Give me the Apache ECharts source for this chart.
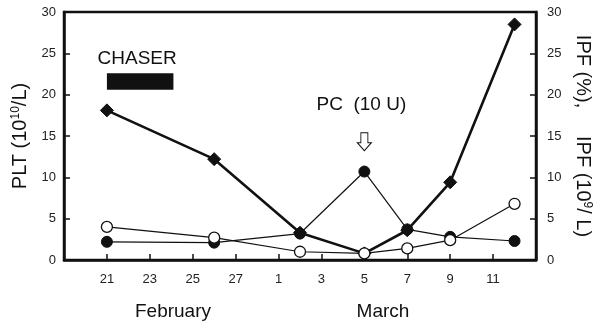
<!DOCTYPE html>
<html>
<head>
<meta charset="utf-8">
<script src="https://cdn.jsdelivr.net/npm/echarts@6/dist/echarts.min.js"></script>
<style>html,body{margin:0;padding:0;background:#fff;}#c{width:594px;height:322px;}</style>
</head>
<body>
<div id="c"></div>
<script>
// Day index: 0 = Feb 21 (Feb has 28 days, so Mar 1 = 8)
const sampleDays = [0, 5, 9, 12, 14, 16, 19];
const pltValues = [18.1, 12.2, 3.3, 0.8, 3.6, 9.4, 28.5];      // PLT (10^10/L), diamonds
const ipfPercent = [2.2, 2.1, 3.2, 10.7, 3.7, 2.8, 2.3];        // IPF (%), filled circles
const ipfAbsolute = [4.0, 2.7, 1.0, 0.8, 1.4, 2.4, 6.8];        // IPF (10^9/L), open circles
const tickDays = [0, 2, 4, 6, 8, 10, 12, 14, 16, 18];
const tickLabels = ['21', '23', '25', '27', '1', '3', '5', '7', '9', '11'];
const chaserSpan = [0, 3.1];
const chaserLevel = [20.6, 22.6];
const pcDay = 12;
const pcArrowLevel = 14.3;

const FONT = '"Liberation Sans", Arial, sans-serif';
const INK = '#111';

function pairs(xs, ys) { return xs.map((x, i) => [x, ys[i]]); }

const chart = echarts.init(document.getElementById('c'), null, { renderer: 'canvas' });
chart.setOption({
  backgroundColor: '#fff',
  animation: false,
  textStyle: { fontFamily: FONT, color: INK },
  grid: { left: 64, right: 58, top: 12, bottom: 62, containLabel: false, outerBoundsMode: 'none',
          show: true, borderColor: INK, borderWidth: 2.5, backgroundColor: 'transparent' },
  xAxis: {
    type: 'value', min: -2, max: 20, interval: 2,
    axisLine: { onZero: false, lineStyle: { color: INK, width: 2.5 } },
    axisTick: { inside: true, length: 6, lineStyle: { color: INK, width: 1.5 } },
    splitLine: { show: false },
    axisLabel: {
      margin: 13, fontSize: 13, color: '#222', fontFamily: FONT,
      formatter: v => { const k = tickDays.indexOf(v); return k >= 0 ? tickLabels[k] : ''; }
    }
  },
  yAxis: [{
    type: 'value', min: 0, max: 30, interval: 5, position: 'left',
    axisLine: { show: true, onZero: false, lineStyle: { color: INK, width: 2.5 } },
    axisTick: { inside: true, length: 6, lineStyle: { color: INK, width: 1.5 } },
    splitLine: { show: false },
    axisLabel: { margin: 8, fontSize: 13, color: '#222', fontFamily: FONT },
    name: '{n|PLT (10}{s|10}{n|/L)}',
    nameLocation: 'middle', nameGap: 28,
    nameTextStyle: {
      fontFamily: FONT, color: INK,
      rich: {
        n: { fontSize: 20, lineHeight: 22, fontFamily: FONT, color: INK },
        s: { fontSize: 12, lineHeight: 12, verticalAlign: 'top', fontFamily: FONT, color: INK }
      }
    }
  }, {
    type: 'value', min: 0, max: 30, interval: 5, position: 'right',
    axisLine: { show: true, onZero: false, lineStyle: { color: INK, width: 2.5 } },
    axisTick: { inside: true, length: 6, lineStyle: { color: INK, width: 1.5 } },
    splitLine: { show: false },
    axisLabel: { margin: 11, fontSize: 13, color: '#222', fontFamily: FONT },
    name: '{n|IPF (%),     IPF (10}{s|9}{n|/ L)}',
    nameLocation: 'middle', nameGap: 34, nameRotate: -90,
    nameTextStyle: {
      fontFamily: FONT, color: INK,
      rich: {
        n: { fontSize: 20, lineHeight: 22, fontFamily: FONT, color: INK },
        s: { fontSize: 12, lineHeight: 12, verticalAlign: 'top', fontFamily: FONT, color: INK }
      }
    }
  }],
  series: [{
    name: 'PLT', type: 'line', yAxisIndex: 0, z: 3,
    data: pairs(sampleDays, pltValues),
    symbol: 'diamond', symbolSize: 13, showAllSymbol: true,
    lineStyle: { color: INK, width: 2.6 },
    itemStyle: { color: INK, borderColor: INK },
    markArea: {
      silent: true,
      itemStyle: { color: INK, opacity: 1 },
      label: { show: true, position: 'top', distance: 5, formatter: 'CHASER', fontSize: 19, color: INK, fontFamily: FONT, offset: [-3, 0] },
      data: [[{ coord: [chaserSpan[0], chaserLevel[0]] }, { coord: [chaserSpan[1], chaserLevel[1]] }]]
    }
  }, {
    name: 'IPF (%)', type: 'line', yAxisIndex: 1, z: 4,
    data: pairs(sampleDays, ipfPercent),
    symbol: 'circle', symbolSize: 11,
    lineStyle: { color: INK, width: 1.2 },
    itemStyle: { color: INK, borderColor: INK },
    markPoint: {
      silent: true,
      symbol: 'path://M3,0 L9,0 L9,10 L12,10 L6,18 L0,10 L3,10 Z',
      symbolSize: [14, 18],
      itemStyle: { color: '#fff', borderColor: INK, borderWidth: 1 },
      label: { show: true, position: 'top', distance: 18, formatter: 'PC  (10 U)', fontSize: 19, color: INK, fontFamily: FONT, offset: [-3, 0] },
      data: [{ coord: [pcDay, pcArrowLevel] }]
    }
  }, {
    name: 'IPF (10^9/L)', type: 'line', yAxisIndex: 1, z: 5,
    data: pairs(sampleDays, ipfAbsolute),
    symbol: 'circle', symbolSize: 11,
    lineStyle: { color: INK, width: 1.2 },
    itemStyle: { color: '#fff', borderColor: INK, borderWidth: 1.3 }
  }],
  graphic: [
    { type: 'text', style: { text: 'February', fontSize: 19, fill: INK, fontFamily: FONT, align: 'center', verticalAlign: 'middle' }, x: 173, y: 312 },
    { type: 'text', style: { text: 'March', fontSize: 19, fill: INK, fontFamily: FONT, align: 'center', verticalAlign: 'middle' }, x: 383, y: 312 }
  ]
});
</script>
</body>
</html>
